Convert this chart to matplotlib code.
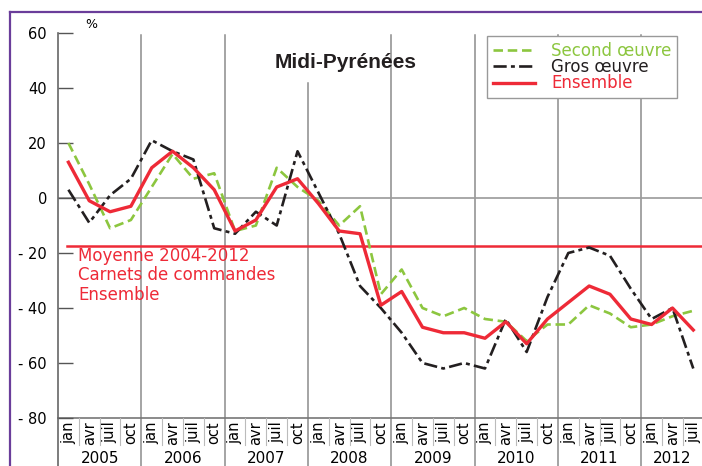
import matplotlib
matplotlib.use("Agg")
import matplotlib.pyplot as plt
import matplotlib.transforms as mtransforms
from matplotlib.lines import Line2D
import numpy as np

plt.rcParams['font.family'] = ['DejaVu Sans']

quarters = ["jan", "avr", "juil", "oct"] * 7 + ["jan", "avr", "juil"]
years = ["2005", "2006", "2007", "2008", "2009", "2010", "2011", "2012"]

second_oeuvre = [20, 5, -11, -8, 4, 16, 7, 9, -12, -10, 11, 4, -1, -10, -3, -35,
                 -26, -40, -43, -40, -44, -45, -52, -46, -46, -39, -42, -47, -46, -43, -41]
gros_oeuvre = [3, -9, 1, 7, 21, 17, 14, -11, -13, -5, -10, 17, 2, -13, -32, -40,
               -49, -60, -62, -60, -62, -44, -56, -36, -20, -18, -21, -33, -44, -40, -62]
ensemble = [13, -1, -5, -3, 11, 17, 11, 3, -12, -8, 4, 7, -2, -12, -13, -39,
            -34, -47, -49, -49, -51, -45, -53, -44, -38, -32, -35, -44, -46, -40, -48]
moyenne = -17.5

yticks = [60, 40, 20, 0, -20, -40, -60, -80]
yticklabels = ["60", "40", "20", "0", "- 20", "- 40", "- 60", "- 80"]

green = "#8cc63f"
black = "#231f20"
red = "#ee2a37"
grid = "#8c8c8c"

W, H = 702, 466
fig = plt.figure(figsize=(W / 100, H / 100), dpi=100)
ax = fig.add_axes([58 / W, 48 / H, 645.7 / W, 385 / H])
x = np.arange(len(quarters))
ax.set_xlim(-0.5, len(quarters) - 0.5)
ax.set_ylim(-80, 60)
for s in ax.spines.values():
    s.set_visible(False)

trans = mtransforms.blended_transform_factory(ax.transData, ax.transAxes)
bottom = -48 / 385

# left axis line, running down through the label rows
ax.plot([-0.5, -0.5], [1, bottom], transform=trans, color="#666666", lw=1.2, clip_on=False)
# year separators
for k in range(1, len(years)):
    xb = 4 * k - 0.5
    top = (42 + 80) / 140 if k == 3 else (59.3 + 80) / 140
    ax.plot([xb, xb], [top, bottom], transform=trans, color=grid, lw=1.1, clip_on=False, zorder=1)
# quarter separators under the axis
for i in range(len(quarters) - 1):
    if (i + 1) % 4 != 0:
        ax.plot([i + 0.5, i + 0.5], [0, -27 / 385], transform=trans, color="#bbbbbb",
                lw=0.8, clip_on=False)

ax.axhline(0, color="#9a9a9a", lw=1.2, zorder=1)
ax.axhline(-80, color="#777777", lw=1.2, zorder=1, clip_on=False)

ax.set_yticks(yticks)
ax.set_yticklabels(yticklabels, fontsize=10.5)
ax.set_xticks([])
ax.tick_params(axis="y", direction="in", length=11, width=1, color="#555555", pad=8)

# mean line
ax.plot([-0.5 + 0.45, len(quarters) - 0.65], [moyenne, moyenne], color=red, lw=1.8, zorder=2)

ax.plot(x, second_oeuvre, color=green, lw=1.9, linestyle=(0, (3.6, 1.8)),
        label="Second œuvre", zorder=3)
ax.plot(x, gros_oeuvre, color=black, lw=1.9, linestyle=(0, (5, 1.6, 1.5, 1.6)),
        label="Gros œuvre", zorder=3)
ax.plot(x, ensemble, color=red, lw=2.4, label="Ensemble", zorder=4)

for i, q in enumerate(quarters):
    ax.text(i, -0.008, q, transform=trans, rotation=90, ha="center", va="top", fontsize=10.5)
for k, yr in enumerate(years):
    n = min(4, len(quarters) - 4 * k)
    ax.text(4 * k + (n - 1) / 2, -0.104, yr, transform=trans, ha="center", va="center",
            fontsize=11)

fig.text(78 / W, 1 - 247 / H, "Moyenne 2004-2012\nCarnets de commandes\nEnsemble",
         color=red, fontsize=12, ha="left", va="top", linespacing=1.1)

fig.text(346 / W, 1 - 62 / H, "Midi-Pyrénées", fontsize=15, fontweight="bold",
         family="Liberation Sans", color="#231f20", ha="center", va="center")
fig.text(91 / W, 1 - 25 / H, "%", fontsize=9, ha="center", va="center")

leg = ax.legend(loc="upper left", bbox_to_anchor=(487 / W, 1 - 36 / H),
                bbox_transform=fig.transFigure, borderaxespad=0, fontsize=12,
                frameon=True, fancybox=False, framealpha=1, edgecolor="#999999",
                handlelength=2.5, handletextpad=1.0, labelspacing=-0.1, borderpad=0.35)
leg.get_frame().set_linewidth(1.0)
for t, c in zip(leg.get_texts(), [green, black, red]):
    t.set_color(c)
leg.set_zorder(10)

# purple frame
fig.add_artist(Line2D([10 / W, 10 / W], [0, 1 - 12 / H], color="#6a3d9a", lw=1.6))
fig.add_artist(Line2D([10 / W, 1], [1 - 12 / H, 1 - 12 / H], color="#6a3d9a", lw=1.6))

fig.savefig("out.png", dpi=100)
